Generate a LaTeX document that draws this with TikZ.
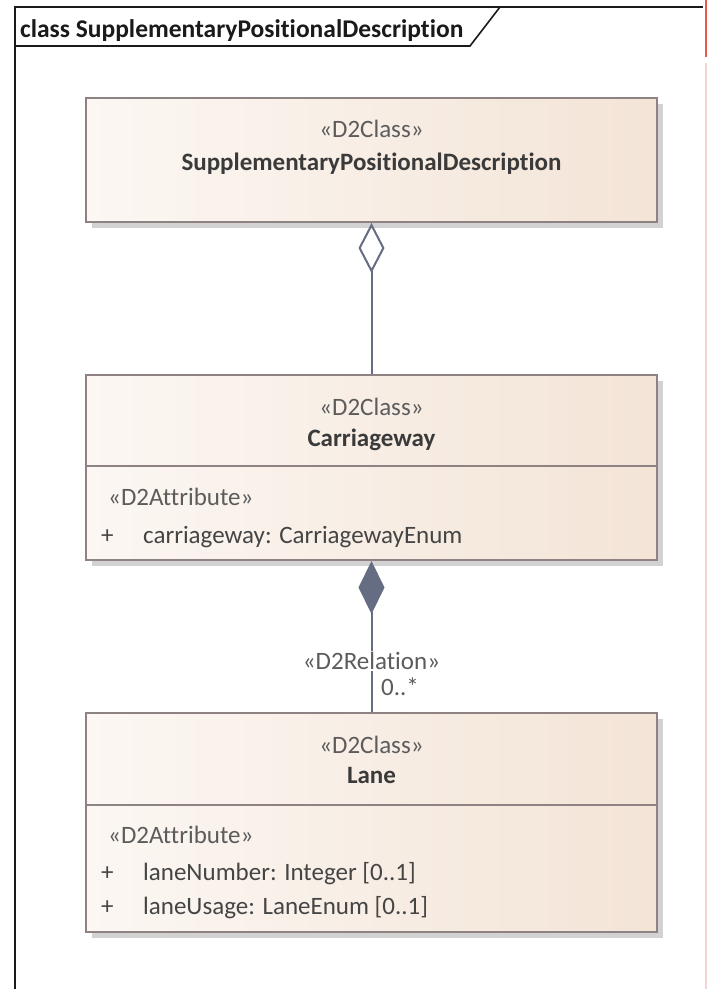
\documentclass[tikz,border=0pt]{standalone}
\usepackage{fontspec}
\setmainfont{Carlito}[Ligatures=NoCommon]
\usetikzlibrary{arrows.meta}

\definecolor{framec}{HTML}{1A1A1A}
\definecolor{boxedge}{HTML}{8E8282}
\definecolor{boxleft}{HTML}{FCF7F3}
\definecolor{boxright}{HTML}{F3E4D6}
\definecolor{shadowc}{HTML}{D2D2D2}
\definecolor{connc}{HTML}{646D82}
\definecolor{namec}{HTML}{3A3A3A}
\definecolor{stereoc}{HTML}{5C5C5C}
\definecolor{attrc}{HTML}{454545}
\definecolor{tabred}{HTML}{E8584F}
\definecolor{tabpink}{HTML}{F8D3D3}

\begin{document}
\begin{tikzpicture}[x=1pt,y=-1pt,
  txt/.style={inner sep=0pt, font=\fontsize{25}{30}\selectfont},
  framel/.style={draw=framec, line width=1.6pt},
  classbox/.style={draw=boxedge, line width=2pt, left color=boxleft, right color=boxright,
    inner sep=0pt, minimum width=571pt,
    preaction={fill=shadowc, transform canvas={xshift=6pt,yshift=-6pt}}},
  divider/.style={draw=boxedge, line width=1.6pt},
  stereo/.style={txt, text=stereoc},
  cname/.style={txt, text=namec, font=\fontsize{25}{30}\selectfont\bfseries},
  attr/.style={txt, text=attrc, anchor=mid west},
  conn/.style={draw=connc, line width=2pt},
  rel/.style={txt, text=stereoc, fill=white, inner sep=1pt}
]
\useasboundingbox (0,0) rectangle (707,989);
\fill[white] (0,0) rectangle (707,989);

% edge strip at the right border
\fill[tabred] (704.5,0) rectangle (707,57);
\fill[tabpink] (704.5,63) rectangle (707,989);

% diagram frame and its name tab
\draw[framel] (15,989) -- (15,7) -- (703,7);
\draw[framel] (15,46) -- (470,46) -- (500,7);
\node[txt, anchor=mid west, font=\fontsize{25.5}{30}\selectfont\bfseries, text=framec] (title)
  at (20,35) {class SupplementaryPositionalDescription};

% classes
\node[classbox, minimum height=124pt] (spd) at (371.5,160) {};
\node[classbox, minimum height=185pt] (cw) at (371.5,467.5) {};
\node[classbox, minimum height=219pt] (lane) at (371.5,822.5) {};

\draw[divider] (86,466) coordinate (cwdl) -- (657,466) coordinate (cwdr);
\draw[divider] (86,805) coordinate (ldl) -- (657,805) coordinate (ldr);

% SupplementaryPositionalDescription
\node[stereo, anchor=mid] (spdst) at (371.5,135) {«D2Class»};
\node[cname, anchor=mid] (spdnm) at (371.5,168) {SupplementaryPositionalDescription};

% Carriageway
\node[stereo, anchor=mid] (cwst) at (371.5,413) {«D2Class»};
\node[cname, anchor=mid] (cwnm) at (371.5,444) {Carriageway};
\node[attr, text=stereoc] (cwas) at (108,503) {«D2Attribute»};
\node[attr] (cwp1) at (101,541) {+};
\node[attr] (cwa1) at (143,541) {carriageway: CarriagewayEnum};

% Lane
\node[stereo, anchor=mid] (lnst) at (371.5,751) {«D2Class»};
\node[cname, anchor=mid] (lnnm) at (371.5,781) {Lane};
\node[attr, text=stereoc] (lnas) at (108,841) {«D2Attribute»};
\node[attr] (lnp1) at (101,878) {+};
\node[attr] (lna1) at (143,878) {laneNumber: Integer [0..1]};
\node[attr] (lnp2) at (101,912) {+};
\node[attr] (lna2) at (143,912) {laneUsage: LaneEnum [0..1]};

% aggregation
\draw[conn, {Diamond[length=50pt, width=26pt, fill=white, line width=2pt]}-]
  (spd.south) -- (cw.north);

% composition
\draw[conn, {Diamond[length=53pt, width=26pt, fill=connc]}-]
  (cw.south) -- (lane.north);
\node[rel, anchor=mid] (relst) at (371.5,667) {«D2Relation»};
\node[txt, text=stereoc, anchor=mid west] (mult) at (381,693) {0..*};
\end{tikzpicture}
\end{document}
